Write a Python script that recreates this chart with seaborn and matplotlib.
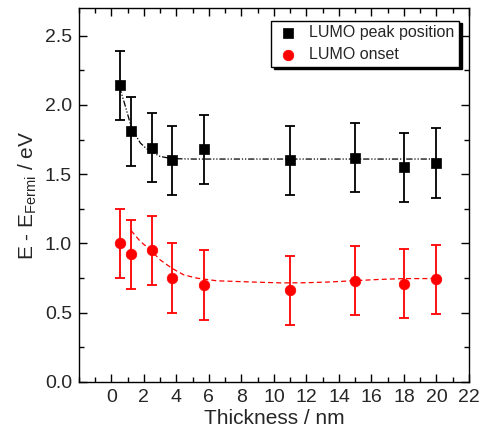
import numpy as np
import pandas as pd
import seaborn as sns
import matplotlib.pyplot as plt
from matplotlib.ticker import MultipleLocator

# measured points
thickness = [0.5, 1.2, 2.5, 3.7, 5.7, 11.0, 15.0, 18.0, 20.0]
peak = [2.14, 1.81, 1.69, 1.60, 1.68, 1.60, 1.62, 1.55, 1.58]
onset = [1.00, 0.92, 0.95, 0.75, 0.70, 0.66, 0.73, 0.71, 0.74]
peak_err = [0.25] * 9
onset_err = [0.25] * 9

# fit curves
peak_fit_x = [0.5, 0.86, 1.21, 1.5, 1.78, 2.1, 2.4, 3.0, 3.7, 5.0, 8.0, 12.0, 16.0, 20.0]
peak_fit_y = [2.13, 1.99, 1.845, 1.78, 1.725, 1.69, 1.664, 1.628, 1.612, 1.609, 1.609, 1.609, 1.609, 1.609]
onset_fit_x = [1.21, 1.78, 2.4, 3.0, 3.73, 4.45, 5.27, 6.5, 7.73, 9.0, 10.4, 12.0, 13.5, 15.0, 16.5, 18.0, 20.0]
onset_fit_y = [1.093, 1.014, 0.954, 0.881, 0.82, 0.773, 0.749, 0.73, 0.725, 0.72, 0.715, 0.716, 0.722, 0.731, 0.74, 0.746, 0.746]

sns.set_style("ticks")
plt.rcParams['font.family'] = ['Liberation Sans', 'DejaVu Sans']
plt.rcParams['mathtext.fontset'] = 'custom'
plt.rcParams['mathtext.rm'] = 'Liberation Sans'
plt.rcParams['mathtext.it'] = 'Liberation Sans'

fig = plt.figure(figsize=(4.81, 4.40), dpi=100)
ax = fig.add_axes([0.164, 0.132, 0.811, 0.850])

df = pd.DataFrame({'t': thickness, 'peak': peak, 'onset': onset})

sns.lineplot(x=peak_fit_x, y=peak_fit_y, ax=ax, color='black', lw=0.9,
             sort=False, estimator=None, linestyle=(0, (5, 1.5, 1, 1.5, 1, 1.5)))
sns.lineplot(x=onset_fit_x, y=onset_fit_y, ax=ax, color='red', lw=0.9,
             sort=False, estimator=None, linestyle=(0, (4, 2.5)))

ax.errorbar(thickness, peak, yerr=peak_err, fmt='none', ecolor='black',
            elinewidth=1.3, capsize=3.5, capthick=1.3)
ax.errorbar(thickness, onset, yerr=onset_err, fmt='none', ecolor='red',
            elinewidth=1.3, capsize=3.5, capthick=1.3)

sns.scatterplot(data=df, x='t', y='peak', ax=ax, marker='s', color='black',
                s=50, edgecolor='black', linewidth=0.5, label='LUMO peak position', zorder=5)
sns.scatterplot(data=df, x='t', y='onset', ax=ax, marker='o', color='red',
                s=58, edgecolor='red', linewidth=0.5, label='LUMO onset', zorder=5)

ax.set_xlim(-2, 22)
ax.set_ylim(0, 2.7)
ax.xaxis.set_minor_locator(MultipleLocator(1))
ax.yaxis.set_minor_locator(MultipleLocator(0.25))
ax.set_xticks(np.arange(0, 23, 2))
ax.set_yticks(np.arange(0, 2.6, 0.5))
ax.set_yticklabels(['%.1f' % v for v in np.arange(0, 2.6, 0.5)])

ax.tick_params(which='both', direction='in', top=True, right=True,
               labelsize=14, pad=5, color='black', width=1)
ax.tick_params(which='major', length=6)
ax.tick_params(which='minor', length=3.5)
for sp in ax.spines.values():
    sp.set_visible(True)
    sp.set_color('black')
    sp.set_linewidth(1)

ax.set_xlabel('Thickness / nm', fontsize=15, labelpad=2)
ax.set_ylabel(r'E - E$_{\mathrm{Fermi}}$ / eV', fontsize=15, labelpad=4)

leg = ax.legend(loc='upper right', bbox_to_anchor=(0.975, 0.966), borderaxespad=0,
                fontsize=11.5, frameon=True, fancybox=False, edgecolor='black',
                handletextpad=0.6, labelspacing=0.4, borderpad=0.3, handlelength=1.5,
                shadow={'color': 'black', 'alpha': 1})
leg.get_frame().set_linewidth(1)
leg._legend_box.align = 'left'

plt.savefig('out.png', dpi=100)
